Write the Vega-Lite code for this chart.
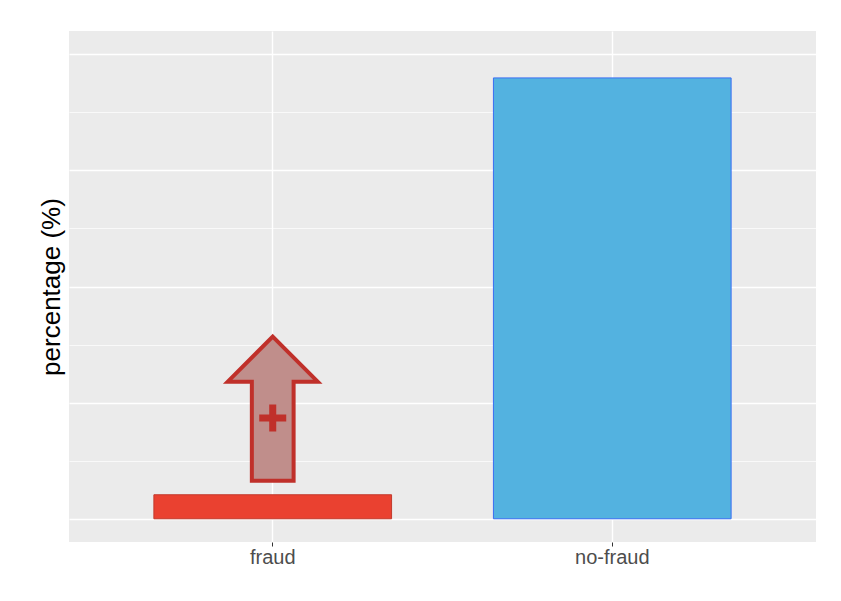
{
  "$schema": "https://vega.github.io/schema/vega-lite/v6.json",
  "autosize": {"type": "none"},
  "padding": {"left": 69, "top": 31, "right": 25, "bottom": 59},
  "width": 747,
  "height": 511,
  "background": "white",
  "datasets": {
    "bars": [
      {"class": "fraud", "percentage": 5.17},
      {"class": "no-fraud", "percentage": 94.9}
    ],
    "arrow": [{"class": "fraud", "percentage": 23.7}],
    "plus": [{"class": "fraud", "percentage": 21.7}]
  },
  "resolve": {"axis": {"y": "independent"}},
  "layer": [
    {
      "data": {"name": "bars"},
      "mark": {"type": "bar", "strokeWidth": 1},
      "encoding": {
        "x": {
          "field": "class",
          "type": "nominal",
          "title": null,
          "scale": {"paddingInner": 0.3, "paddingOuter": 0.25},
          "axis": {
            "bandPosition": 0.5,
            "domain": false,
            "grid": true,
            "gridColor": "white",
            "gridWidth": 1.4,
            "ticks": true,
            "tickSize": 4,
            "tickColor": "#333333",
            "labelAngle": 0,
            "labelFontSize": 20,
            "labelColor": "#4d4d4d",
            "labelPadding": 1,
            "labelFont": "Liberation Sans"
          }
        },
        "y": {
          "field": "percentage",
          "type": "quantitative",
          "title": "percentage (%)",
          "scale": {"domain": [-5, 105], "nice": false, "zero": false},
          "axis": {
            "values": [0, 25, 50, 75, 100],
            "labels": false,
            "ticks": false,
            "domain": false,
            "grid": true,
            "gridColor": "white",
            "gridWidth": 1.4,
            "titleFont": "Liberation Sans",
            "titleFontSize": 26,
            "titleFontWeight": "normal",
            "titleColor": "black",
            "titlePadding": 5
          }
        },
        "color": {
          "field": "class",
          "type": "nominal",
          "legend": null,
          "scale": {"domain": ["fraud", "no-fraud"], "range": ["#ea4130", "#53b2e0"]}
        },
        "stroke": {
          "field": "class",
          "type": "nominal",
          "legend": null,
          "scale": {"domain": ["fraud", "no-fraud"], "range": ["#c23a2c", "#3a6ef2"]}
        }
      }
    },
    {
      "data": {"name": "arrow"},
      "mark": {
        "type": "point",
        "shape": "M0,-1 L0.625,-0.375 L0.29,-0.375 L0.29,1 L-0.29,1 L-0.29,-0.375 L-0.625,-0.375 Z",
        "size": 20736,
        "filled": true,
        "fill": "#c08e8b",
        "stroke": "#c0302a",
        "strokeWidth": 4,
        "opacity": 1,
        "strokeJoin": "miter"
      },
      "encoding": {
        "x": {"field": "class", "type": "nominal"},
        "y": {
          "field": "percentage",
          "type": "quantitative",
          "axis": {
            "orient": "left",
            "values": [12.5, 37.5, 62.5, 87.5],
            "labels": false,
            "ticks": false,
            "domain": false,
            "title": null,
            "grid": true,
            "gridColor": "white",
            "gridWidth": 0.7
          }
        }
      }
    },
    {
      "data": {"name": "plus"},
      "mark": {
        "type": "point",
        "shape": "M-0.26,-1 L0.26,-1 L0.26,-0.26 L1,-0.26 L1,0.26 L0.26,0.26 L0.26,1 L-0.26,1 L-0.26,0.26 L-1,0.26 L-1,-0.26 L-0.26,-0.26 Z",
        "size": 729,
        "filled": true,
        "fill": "#c0302a",
        "strokeWidth": 0,
        "opacity": 1
      },
      "encoding": {
        "x": {"field": "class", "type": "nominal"},
        "y": {"field": "percentage", "type": "quantitative", "axis": null}
      }
    }
  ],
  "config": {
    "view": {"fill": "#ebebeb", "stroke": null}
  }
}
